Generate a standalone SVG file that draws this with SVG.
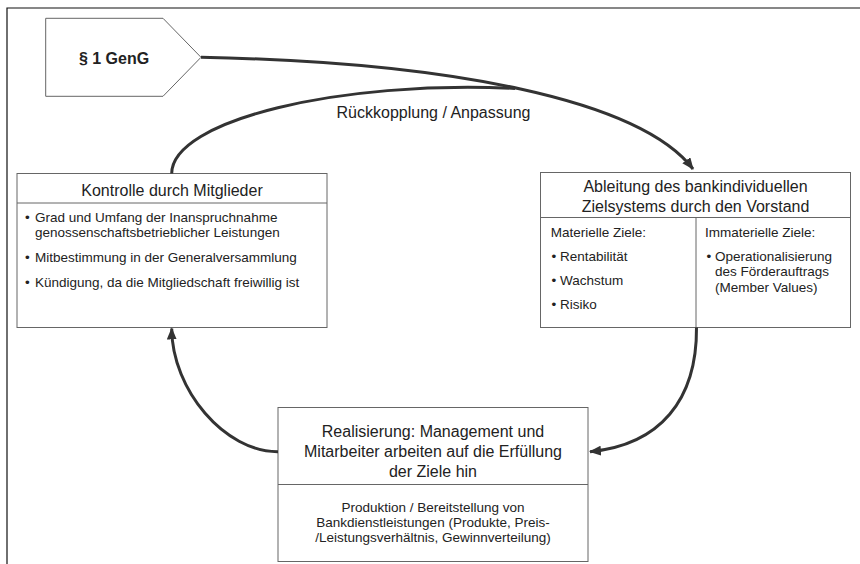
<svg xmlns="http://www.w3.org/2000/svg" width="860" height="564" viewBox="0 0 860 564">
<defs>
<style>
.box{fill:#fff;stroke:#666;stroke-width:1}
.div{stroke:#666;stroke-width:1;fill:none}
.frame{stroke:#111;stroke-width:1.2;fill:none}
.t{font-family:"Liberation Sans",Arial,sans-serif;fill:#222}
.h{font-size:16px}
.s{font-size:13.5px}
.c{text-anchor:middle}
.b{font-weight:bold}
.arr{fill:none;stroke:#333;stroke-width:3}
</style>
<marker id="ah" markerUnits="userSpaceOnUse" markerWidth="12" markerHeight="10" viewBox="0 0 12 10" refX="11" refY="5" orient="auto">
<path d="M0,0 L12,5 L0,10 Z" fill="#333"/>
</marker>
</defs>
<rect width="860" height="564" fill="#fff"/>
<path class="frame" d="M7,564 V8 H860"/>

<g id="genG">
<polygon class="box" points="45.7,18.3 163,18.3 201,57.3 163,96.3 45.7,96.3"/>
<text class="t h b c" x="114" y="64">§ 1 GenG</text>
</g>

<g id="kontrolle">
<rect class="box" x="17" y="173.5" width="310" height="154"/>
<line class="div" x1="17" y1="203" x2="327" y2="203"/>
<text class="t h c" x="172" y="195.5">Kontrolle durch Mitglieder</text>
<text class="t s"><tspan x="25" y="221.7">•</tspan><tspan x="35" y="221.7">Grad und Umfang der Inanspruchnahme</tspan><tspan x="35" y="237.3">genossenschaftsbetrieblicher Leistungen</tspan></text>
<text class="t s"><tspan x="25" y="262.3">•</tspan><tspan x="35" y="262.3">Mitbestimmung in der Generalversammlung</tspan></text>
<text class="t s"><tspan x="25" y="286.7">•</tspan><tspan x="35" y="286.7">Kündigung, da die Mitgliedschaft freiwillig ist</tspan></text>
</g>

<g id="zielsystem">
<rect class="box" x="540.5" y="172.5" width="310" height="155"/>
<line class="div" x1="540.5" y1="217.5" x2="850.5" y2="217.5"/>
<line class="div" x1="696" y1="217.5" x2="696" y2="327.5"/>
<text class="t h c" x="695.5" y="191.5">Ableitung des bankindividuellen</text>
<text class="t h c" x="695.5" y="211.5">Zielsystems durch den Vorstand</text>
<text class="t s" x="550.7" y="236.5">Materielle Ziele:</text>
<text class="t s"><tspan x="551.5" y="261.3">•</tspan><tspan x="560" y="261.3">Rentabilität</tspan></text>
<text class="t s"><tspan x="551.5" y="284.8">•</tspan><tspan x="560" y="284.8">Wachstum</tspan></text>
<text class="t s"><tspan x="551.5" y="309.3">•</tspan><tspan x="560" y="309.3">Risiko</tspan></text>
<text class="t s" x="705" y="236.5">Immaterielle Ziele:</text>
<text class="t s"><tspan x="706.5" y="261">•</tspan><tspan x="715" y="261">Operationalisierung</tspan><tspan x="715" y="276.3">des Förderauftrags</tspan><tspan x="715" y="291.8">(Member Values)</tspan></text>
</g>

<g id="realisierung">
<rect class="box" x="278" y="407.5" width="310" height="154"/>
<line class="div" x1="278" y1="484.5" x2="588" y2="484.5"/>
<text class="t h c" x="433" y="437.3">Realisierung: Management und</text>
<text class="t h c" x="433" y="456.8">Mitarbeiter arbeiten auf die Erfüllung</text>
<text class="t h c" x="433" y="476.5">der Ziele hin</text>
<text class="t s c" x="433" y="511.5">Produktion / Bereitstellung von</text>
<text class="t s c" x="433" y="526.5">Bankdienstleistungen (Produkte, Preis-</text>
<text class="t s c" x="433" y="541.7">/Leistungsverhältnis, Gewinnverteilung)</text>
</g>

<g id="connectors">
<path class="arr" d="M201,57.3 C450,62 640,100 693,169" marker-end="url(#ah)"/>
<path class="arr" d="M171.7,173.5 C172,120 340,80 515,88.4"/>
<path class="arr" d="M696.5,327.5 C697,400 660,445 590,451.7" marker-end="url(#ah)"/>
<path class="arr" d="M278,451.7 C225,452 172,390 171.7,328.5" marker-end="url(#ah)"/>
<text class="t h c" x="433.5" y="118">Rückkopplung / Anpassung</text>
</g>
</svg>
